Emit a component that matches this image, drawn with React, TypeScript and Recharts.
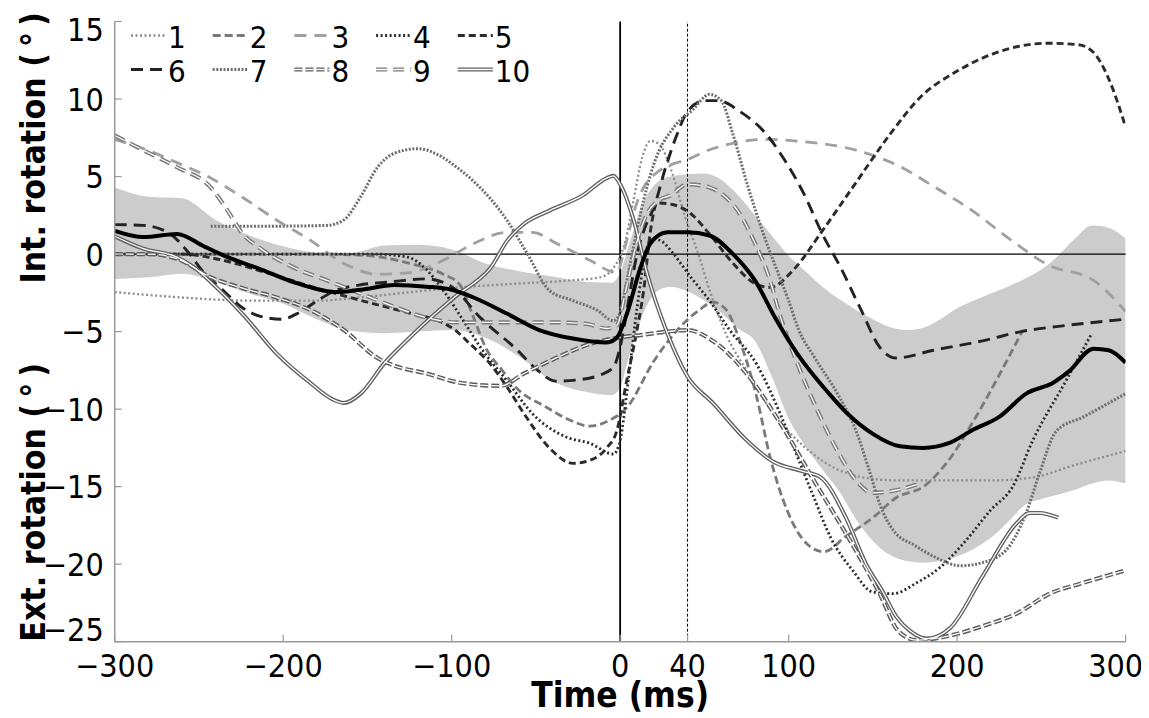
import React from 'react';
import { ComposedChart, Line, Area, XAxis, YAxis, ReferenceLine, Legend } from 'recharts';

type Pt = [number, number];

// time (ms) / rotation (deg), one list per subject
const s1: Pt[] = [[-300, -2.45], [-260, -2.8], [-220, -3.0], [-180, -3.0], [-150, -2.75], [-120, -2.4], [-90, -2.1], [-60, -1.9], [-30, -1.7], [-12, -1.5], [-4, -0.9], [3, 0.8], [8, 3.5], [13, 6.2], [18, 7.3], [23, 7.1], [31, 5.2], [38, 2.6], [47, -0.2], [53, -2.3], [63, -5.2], [75, -7.5], [91, -10.3], [105, -12.0], [124, -13.6], [144, -14.4], [166, -14.6], [190, -14.6], [220, -14.6], [245, -14.4], [270, -13.6], [300, -12.7]];
const s2: Pt[] = [[-300, 0], [-260, 0], [-220, 0], [-180, 0], [-150, -0.1], [-125, -0.6], [-105, -1.3], [-95, -2.0], [-88, -3.8], [-80, -6.0], [-70, -7.5], [-60, -8.8], [-45, -9.8], [-30, -10.7], [-18, -11.1], [-6, -10.7], [4, -9.9], [20, -6.9], [34, -4.9], [47, -3.6], [55, -3.1], [63, -3.6], [71, -5.6], [81, -9.2], [89, -13.1], [99, -16.5], [111, -18.7], [121, -19.2], [134, -18.2], [150, -17.0], [164, -15.7], [180, -15.0], [195, -13.3], [209, -10.9], [224, -8.0], [239, -4.9]];
const s3: Pt[] = [[-300, 7.4], [-283, 6.8], [-263, 5.9], [-243, 4.9], [-224, 3.65], [-204, 2.2], [-184, 0.9], [-164, -0.6], [-144, -1.3], [-125, -1.2], [-105, -0.4], [-87, 0.67], [-67, 1.4], [-52, 1.4], [-38, 0.7], [-18, -0.4], [-2, -1.2], [3, 0.5], [9, 3.0], [15, 4.5], [20, 5.1], [31, 5.8], [40, 6.1], [50, 6.6], [65, 7.1], [87, 7.4], [109, 7.25], [140, 6.7], [165, 5.7], [187, 4.3], [209, 2.8], [232, 0.9], [254, -0.7], [281, -1.7], [300, -3.7]];
const s4: Pt[] = [[-300, 0], [-260, 0], [-220, 0], [-180, 0], [-145, 0], [-126, -0.2], [-115, -1.0], [-104, -2.5], [-93, -4.3], [-83, -6.0], [-67, -8.2], [-52, -10.3], [-32, -11.8], [-18, -12.2], [-4, -12.9], [0, -12.0], [5, -8.0], [10, -3.5], [15, 0], [19, 1.0], [25, 0.8], [31, 0.1], [42, -1.5], [53, -3.0], [65, -4.9], [81, -7.1], [95, -10.3], [105, -13.0], [115, -15.7], [125, -18.3], [138, -20.4], [150, -21.8], [162, -21.9], [176, -21.2], [190, -20.2], [205, -18.5], [220, -16.5], [233, -15.0], [245, -12.0], [265, -8.1], [280, -5.1]];
const s5: Pt[] = [[-300, 0], [-260, 0], [-240, -0.3], [-210, -1.2], [-180, -2.2], [-150, -3.1], [-125, -3.8], [-108, -4.3], [-98, -4.9], [-90, -5.7], [-77, -7.1], [-67, -8.6], [-57, -10.3], [-42, -12.5], [-28, -13.5], [-18, -13.3], [-8, -12.5], [-2, -11.4], [4, -8.1], [10, -4.9], [14, -2.3], [18, 1.5], [22, 3.3], [31, 3.2], [42, 2.6], [53, 1.3], [67, -0.6], [80, -1.9], [89, -2.15], [103, -1.0], [120, 1.5], [138, 4.3], [160, 7.7], [178, 10.1], [200, 11.8], [221, 12.9], [254, 13.6], [272, 13.5], [281, 13.0], [290, 11.3], [300, 8.2]];
const s6: Pt[] = [[-300, 1.9], [-283, 1.85], [-267, 1.3], [-257, 0.2], [-247, -1.2], [-236, -2.3], [-225, -3.4], [-214, -4.0], [-201, -4.2], [-191, -3.8], [-181, -3.1], [-170, -2.4], [-155, -2.0], [-137, -1.8], [-115, -1.6], [-100, -2.1], [-83, -4.1], [-61, -6.2], [-50, -7.4], [-38, -8.2], [-24, -8.1], [-12, -7.8], [-4, -7.3], [0, -6.0], [5, -3.0], [10, 0], [15, 1.8], [20, 3.0], [27, 5.6], [33, 7.5], [40, 9.2], [50, 9.9], [58, 9.9], [71, 9.2], [87, 7.7], [98, 6.0], [109, 3.9], [120, 1.3], [131, -0.9], [143, -3.6], [154, -6.0], [164, -6.7], [186, -6.2], [215, -5.6], [238, -5.0], [265, -4.6], [300, -4.2]];
const s7: Pt[] = [[-243, 1.8], [-204, 1.8], [-174, 1.85], [-164, 2.2], [-154, 3.7], [-144, 5.6], [-134, 6.5], [-120, 6.8], [-108, 6.4], [-97, 5.6], [-87, 4.7], [-67, 2.15], [-55, 0], [-42, -2.35], [-28, -3.0], [-14, -3.6], [-4, -4.3], [0, -3.8], [4, -1.7], [12, 2.6], [20, 5.8], [32, 8.2], [43, 9.3], [53, 10.3], [60, 9.9], [67, 7.7], [76, 4.3], [85, 1.3], [94, -1.3], [100, -3.0], [106, -4.9], [115, -6.6], [130, -9.2], [140, -11.4], [148, -14.0], [154, -16.1], [162, -17.8], [175, -18.8], [186, -19.5], [202, -20.1], [215, -19.9], [229, -19.1], [241, -16.7], [249, -14.1], [259, -11.4], [275, -10.5], [300, -9.0]];
const s8: Pt[] = [[-300, 0], [-280, 0], [-263, -0.3], [-243, -1.5], [-224, -2.2], [-204, -2.8], [-184, -3.6], [-164, -4.9], [-144, -6.7], [-134, -7.2], [-115, -7.7], [-95, -8.3], [-71, -8.5], [-57, -7.7], [-38, -6.7], [-18, -5.8], [-2, -5.4], [14, -5.2], [28, -5.0], [40, -4.9], [55, -5.6], [75, -7.7], [95, -10.9], [115, -14.6], [135, -18.2], [154, -21.9], [165, -24.3], [176, -24.9], [196, -24.6], [215, -24.0], [235, -23.2], [255, -21.9], [275, -21.2], [300, -20.4]];
const s9: Pt[] = [[-300, 7.65], [-283, 6.7], [-263, 5.6], [-243, 4.3], [-233, 2.8], [-224, 1.3], [-214, 0.4], [-194, -0.85], [-174, -1.7], [-154, -2.55], [-134, -3.4], [-115, -4.1], [-97, -4.4], [-70, -4.4], [-40, -4.4], [-20, -4.5], [-8, -4.8], [-2, -4.6], [4, -2.0], [10, 0.8], [16, 2.6], [22, 3.4], [30, 3.8], [40, 4.5], [53, 4.3], [60, 3.9], [71, 2.6], [80, 0.7], [89, -1.7], [95, -4.0], [105, -7.0], [118, -10.3], [130, -12.9], [140, -14.6], [150, -15.4], [165, -15.2], [178, -14.8]];
const s10: Pt[] = [[-300, 1.15], [-283, 0.35], [-263, -0.2], [-253, -0.85], [-243, -1.8], [-223, -4.0], [-204, -6.4], [-184, -8.3], [-170, -9.4], [-164, -9.6], [-154, -9.0], [-140, -7.05], [-125, -5.4], [-105, -3.4], [-95, -2.5], [-87, -1.9], [-77, -0.9], [-67, 0.87], [-57, 1.96], [-42, 2.8], [-22, 3.8], [-8, 4.9], [-4, 5.05], [0, 4.5], [8, 2.2], [16, -1.25], [28, -5.1], [40, -7.9], [55, -9.6], [75, -12.0], [91, -13.4], [108, -14.0], [119, -14.4], [134, -17.0], [146, -20.0], [156, -21.8], [164, -23.4], [172, -24.3], [182, -24.8], [196, -24.1], [215, -20.8], [235, -17.4], [243, -16.7], [249, -16.7], [260, -17.0]];

const mean: Pt[] = [[-300, 1.5], [-283, 1.1], [-263, 1.3], [-247, 0.5], [-233, -0.2], [-213, -1.0], [-194, -1.8], [-168, -2.45], [-154, -2.3], [-134, -2.0], [-115, -2.1], [-100, -2.3], [-87, -2.8], [-67, -3.85], [-48, -4.9], [-28, -5.45], [-8, -5.7], [-2, -5.4], [4, -3.85], [12, -0.9], [18, 0.7], [28, 1.4], [40, 1.4], [53, 1.2], [67, 0], [80, -1.7], [92, -4.1], [105, -6.4], [124, -9.0], [135, -10.3], [150, -11.6], [166, -12.4], [180, -12.5], [195, -12.2], [210, -11.3], [225, -10.5], [241, -9.0], [257, -8.3], [266, -7.6], [281, -6.1], [290, -6.2], [300, -7.0]];

// shaded spread around the mean
const bandTimes = [-300, -280, -260, -240, -220, -200, -180, -160, -140, -120, -100, -80, -60, -40, -20, -5, 0, 5, 10, 15, 20, 25, 30, 40, 50, 60, 70, 80, 90, 100, 110, 120, 130, 140, 150, 160, 170, 180, 190, 200, 210, 220, 230, 240, 250, 260, 270, 280, 290, 300];
const bandUpper = [4.3, 3.7, 3.6, 2.2, 1.2, 0.5, 0.1, 0.07, 0.55, 0.6, 0.3, -0.6, -1.1, -1.45, -1.8, -1.85, -1.2, 0.5, 2.2, 3.6, 4.4, 4.85, 5.0, 5.15, 5.2, 4.8, 3.8, 2.5, 1.2, -0.1, -1.1, -2.1, -2.9, -3.6, -4.2, -4.7, -4.9, -4.75, -4.2, -3.5, -3.0, -2.55, -2.1, -1.6, -1.0, -0.1, 1.0, 1.85, 1.7, 1.0];
const bandLower = [-1.6, -1.5, -1.27, -1.8, -2.55, -3.2, -4.2, -4.95, -5.1, -5.0, -4.9, -5.4, -6.6, -8.2, -8.9, -9.1, -8.6, -6.7, -5.0, -3.5, -2.6, -2.2, -2.1, -2.4, -3.0, -3.8, -4.8, -5.6, -7.9, -10.6, -12.4, -13.9, -15.3, -17.1, -18.5, -19.4, -19.8, -19.9, -19.8, -19.5, -19.0, -18.3, -17.3, -16.2, -15.8, -15.5, -15.2, -14.8, -14.6, -14.8];

const xTicks = [-300, -200, -100, 0, 40, 100, 200, 300];
const yTicks = [-25, -20, -15, -10, -5, 0, 5, 10, 15];

const FONT = "'DejaVu Sans Condensed', 'DejaVu Sans', sans-serif";
const TICK_MARGIN = 11;

type Subject = { name: string; data: Pt[]; color: string; width: number; dash?: string; double?: boolean };

const subjects: Subject[] = [
  { name: '1', data: s1, color: '#8c8c8c', width: 2.3, dash: '2 2.5' },
  { name: '2', data: s2, color: '#7a7a7a', width: 2.8, dash: '8 4' },
  { name: '3', data: s3, color: '#a0a0a0', width: 2.8, dash: '12 8' },
  { name: '4', data: s4, color: '#2b2b2b', width: 2.8, dash: '2 2.5' },
  { name: '5', data: s5, color: '#2b2b2b', width: 2.9, dash: '7 4' },
  { name: '6', data: s6, color: '#222', width: 2.9, dash: '12 7' },
  { name: '7', data: s7, color: '#6e6e6e', width: 3, dash: '2 1.6' },
  { name: '8', data: s8, color: '#5a5a5a', width: 4.2, dash: '8 3', double: true },
  { name: '9', data: s9, color: '#7a7a7a', width: 4.2, dash: '11 6', double: true },
  { name: '10', data: s10, color: '#5e5e5e', width: 4, double: true },
];

const rows = (pts: Pt[]) => pts.map(([t, v]) => ({ t, v }));
const bandRows = bandTimes.map((t, i) => ({ t, range: [bandLower[i], bandUpper[i]] }));

const fmt = (v: number) => (v < 0 ? '\u2212' + Math.abs(v) : String(v));

const XTick = (props: any) => {
  const { x, y, payload } = props;
  const axisY = y - TICK_MARGIN;
  // the last label is pulled in so it stays inside the figure
  const nudge = payload.value === 300 ? -10 : 0;
  return (
    <g>
      <line x1={x} x2={x} y1={axisY} y2={axisY - 7} stroke="#999" strokeWidth={1.2} />
      <text x={x + nudge} y={y + 24} textAnchor="middle" fontSize={32} fontFamily={FONT} fill="#000">
        {fmt(payload.value)}
      </text>
    </g>
  );
};

const YTick = (props: any) => {
  const { x, y, payload } = props;
  const axisX = x + TICK_MARGIN;
  // end labels sit a little inside the axis range
  const nudge = payload.value === 15 ? 8 : payload.value === -25 ? -12 : 0;
  return (
    <g>
      <line x1={axisX} x2={axisX + 7} y1={y} y2={y} stroke="#999" strokeWidth={1.2} />
      <text x={x} y={y + 11.5 + nudge} textAnchor="end" fontSize={32} fontFamily={FONT} fill="#000">
        {fmt(payload.value)}
      </text>
    </g>
  );
};

const YLabels = (props: any) => {
  const vb = props.viewBox || { x: 6.7, y: 13.5, width: 100, height: 620.2 };
  const x = vb.x + 30;
  const yInt = vb.y + (vb.height * (15 + 1.9)) / 40;
  const yExt = vb.y + vb.height;
  return (
    <g fontFamily={FONT} fontSize={33.5} fontWeight="bold" fill="#000">
      <text x={x} y={yInt} transform={`rotate(-90, ${x}, ${yInt})`} textAnchor="start">
        {'Int. rotation (\u2009°\u2009)'}
      </text>
      <text x={x} y={yExt} transform={`rotate(-90, ${x}, ${yExt})`} textAnchor="start">
        {'Ext. rotation (\u2009°\u2009)'}
      </text>
    </g>
  );
};

const XLabel = (props: any) => {
  const vb = props.viewBox || { x: 106.7, y: 633.7, width: 1011, height: 60 };
  return (
    <text x={vb.x + vb.width / 2} y={vb.y + 65} textAnchor="middle" fontFamily={FONT} fontSize={35} fontWeight="bold" fill="#000">
      Time (ms)
    </text>
  );
};

const LegendBox = () => (
  <svg width={430} height={80} style={{ overflow: 'visible' }}>
    {subjects.map((s, i) => {
      const col = i % 5;
      const row = Math.floor(i / 5);
      const x0 = 5 + col * 81.7;
      const yb = 30 + row * 34;
      const ly = yb - 12.5;
      return (
        <g key={s.name}>
          <line x1={x0} x2={x0 + 35} y1={ly} y2={ly} stroke={s.color} strokeWidth={s.width} strokeDasharray={s.dash} />
          {s.double && (
            <line x1={x0} x2={x0 + 35} y1={ly} y2={ly} stroke="#fff" strokeWidth={1.3} strokeDasharray={s.dash} />
          )}
          <text x={x0 + 37} y={yb} fontSize={31} fontFamily={FONT} fill="#000">
            {s.name}
          </text>
        </g>
      );
    })}
  </svg>
);

export default function App() {
  return (
    <div style={{ width: 1141, height: 710 }}>
      <ComposedChart width={1141} height={710} margin={{ top: 13.5, right: 23.4, left: 6.7, bottom: 16.3 }}>
        <XAxis
          dataKey="t"
          type="number"
          domain={[-300, 300]}
          ticks={xTicks}
          interval={0}
          allowDataOverflow
          height={60}
          tickSize={0}
          tickMargin={TICK_MARGIN}
          tickLine={false}
          tick={<XTick />}
          axisLine={{ stroke: '#999', strokeWidth: 1.5 }}
          label={{ content: <XLabel /> }}
        />
        <YAxis
          type="number"
          domain={[-25, 15]}
          ticks={yTicks}
          interval={0}
          allowDataOverflow
          width={100}
          tickSize={0}
          tickMargin={TICK_MARGIN}
          tickLine={false}
          tick={<YTick />}
          axisLine={{ stroke: '#999', strokeWidth: 1.5 }}
          label={{ content: <YLabels /> }}
        />
        <Legend
          layout="vertical"
          align="center"
          verticalAlign="middle"
          content={<LegendBox />}
          wrapperStyle={{ left: 118, top: 10, width: 430, height: 80 }}
        />
        <Area
          data={bandRows}
          dataKey="range"
          type="monotone"
          stroke="none"
          fill="#cccccc"
          fillOpacity={1}
          isAnimationActive={false}
          legendType="none"
          activeDot={false}
        />
        <ReferenceLine y={0} stroke="#000" strokeWidth={1.2} />
        <ReferenceLine x={0} stroke="#000" strokeWidth={1.8} />
        <ReferenceLine x={40} stroke="#000" strokeWidth={1} strokeDasharray="3 2" />
        {subjects.map((s) => (
          <Line
            key={s.name}
            data={rows(s.data)}
            dataKey="v"
            name={s.name}
            type="monotone"
            stroke={s.color}
            strokeWidth={s.width}
            strokeDasharray={s.dash}
            dot={false}
            activeDot={false}
            isAnimationActive={false}
            legendType="none"
          />
        ))}
        {subjects
          .filter((s) => s.double)
          .map((s) => (
            <Line
              key={s.name + '-inner'}
              data={rows(s.data)}
              dataKey="v"
              type="monotone"
              stroke="#fff"
              strokeWidth={1.3}
              strokeDasharray={s.dash}
              dot={false}
              activeDot={false}
              isAnimationActive={false}
              legendType="none"
            />
          ))}
        <Line
          data={rows(mean)}
          dataKey="v"
          name="mean"
          type="monotone"
          stroke="#000"
          strokeWidth={4}
          dot={false}
          activeDot={false}
          isAnimationActive={false}
          legendType="none"
        />
      </ComposedChart>
    </div>
  );
}
